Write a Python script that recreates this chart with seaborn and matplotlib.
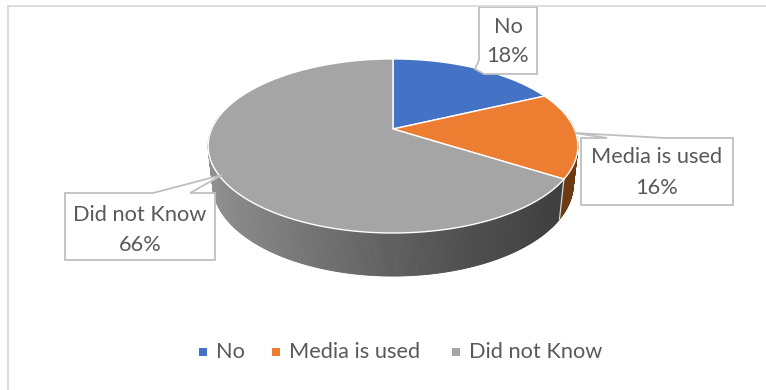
import numpy as np
import matplotlib
matplotlib.use("Agg")
import matplotlib.pyplot as plt
import seaborn as sns
from matplotlib.patches import Polygon

# Survey answers and their shares (percent)
categories = ["No", "Media is used", "Did not Know"]
shares = [18, 16, 66]
pct_labels = ["18%", "16%", "66%"]

top_colors = ["#4472C4", "#ED7D31", "#A5A5A5"]
side_colors = ["#22396a", "#6e3a13", None]   # None -> shaded gray wall

sns.set_theme(style="white")
plt.rcParams["font.family"] = ["Lato", "DejaVu Sans"]
TEXT = "#595959"
FS = 15.7

W, H = 766, 390
fig = plt.figure(figsize=(W / 100, H / 100), dpi=100)
ax = fig.add_axes([0, 0, 1, 1])
ax.set_xlim(0, W)
ax.set_ylim(H, 0)
ax.axis("off")

# perspective camera for the tilted pie
cx, cy = 393, 129
theta = np.radians(27.5)
D, F, thick = 4.55, 825.0, 0.2376


def project(phi, y):
    X, Z = np.sin(phi), np.cos(phi)
    zc = -y * np.sin(theta) + Z * np.cos(theta) + D
    yc = y * np.cos(theta) + Z * np.sin(theta)
    return cx + F * X / zc, cy - F * yc / zc


def wall_gray(sx):
    t = np.clip((sx - 208) / 370, 0, 1)
    lvl = 0x3e + (0x90 - 0x3e) * (1 - t) ** 1.3
    return (lvl / 255, lvl / 255, lvl / 255)


fr = np.array(shares, float) / sum(shares)
bounds = np.concatenate([[0], np.cumsum(fr)]) * 2 * np.pi

# side wall, drawn far to near
segs = []
for i in range(len(shares)):
    a0, a1 = bounds[i], bounds[i + 1]
    n = max(2, int(np.degrees(a1 - a0) / 0.5))
    ph = np.linspace(a0, a1, n + 1)
    for p0, p1 in zip(ph[:-1], ph[1:]):
        mid = 0.5 * (p0 + p1)
        if np.cos(mid) > 0.2:
            continue
        t0, t1 = project(p0, 0), project(p1, 0)
        b0, b1 = project(p0, -thick), project(p1, -thick)
        col = side_colors[i] if side_colors[i] else wall_gray(0.5 * (t0[0] + t1[0]))
        segs.append((np.cos(mid), [t0, t1, b1, b0], col))
segs.sort(key=lambda s: -s[0])
for _, pts, col in segs:
    ax.add_patch(Polygon(pts, closed=True, facecolor=col, edgecolor=col, lw=0.6))

# seam line between slices on the wall
for b in bounds[1:-1]:
    if np.cos(b) < -0.19:
        t, bt = project(b, 0), project(b, -thick)
        ax.plot([t[0], bt[0]], [t[1], bt[1]], color="white", lw=0.9, alpha=0.8)

# top faces
for i in range(len(shares)):
    ph = np.linspace(bounds[i], bounds[i + 1], 200)
    xs, ys = project(ph, 0)
    pts = [(cx, cy)] + list(zip(xs, ys))
    ax.add_patch(Polygon(pts, closed=True, facecolor=top_colors[i],
                         edgecolor="white", lw=1.0, joinstyle="round"))

# callout boxes
EDGE = "#bfbfbf"
callouts = [
    [(479, 7), (537, 7), (537, 74), (484, 74), (475, 69), (479, 60)],
    [(581, 205), (581, 138), (607, 138), (575, 133), (665, 138), (733, 138), (733, 205)],
    [(65, 193), (153, 193), (222, 175), (190, 193), (215, 193), (215, 260), (65, 260)],
]
text_pos = [(508, 27, 56), (657, 157, 188), (140, 215, 245)]
for poly, (tx, y1, y2), cat, pct in zip(callouts, text_pos, categories, pct_labels):
    ax.add_patch(Polygon(poly, closed=True, facecolor="white", edgecolor=EDGE,
                         lw=1.3, joinstyle="miter"))
    ax.text(tx, y1, cat, ha="center", va="center", fontsize=FS, color=TEXT)
    ax.text(tx, y2, pct, ha="center", va="center", fontsize=FS, color=TEXT)

# legend
leg_marker_x = [203, 276, 456]
for mx, cat, col in zip(leg_marker_x, categories, top_colors):
    ax.scatter([mx], [352], marker="s", s=26, color=col, linewidths=0)
    ax.text(mx + 13, 352, cat, ha="left", va="center", fontsize=FS, color=TEXT)

# chart frame
ax.plot([8, 8], [H, 6], color="#d9d9d9", lw=1.3)
ax.plot([8, W], [6, 6], color="#d9d9d9", lw=1.3)

fig.savefig("out.png", dpi=100, facecolor="white")
